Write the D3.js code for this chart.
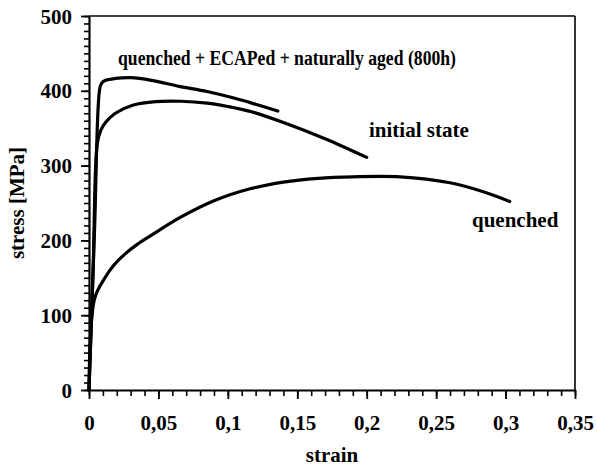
<!DOCTYPE html>
<html>
<head>
<meta charset="utf-8">
<script src="https://cdn.jsdelivr.net/npm/d3@7"></script>
<style>
  body { margin: 0; background: #fff; }
  text { font-family: "Liberation Serif", "Times New Roman", serif; font-weight: bold; fill: #000; }
</style>
</head>
<body>
<svg width="597" height="472"></svg>
<script>
// strain / stress readings for each curve
var ecapStrain    = [0, 0.0040, 0.0075, 0.0090, 0.0120, 0.019, 0.030, 0.045, 0.065, 0.085, 0.105, 0.120, 0.136];
var ecapStress    = [0, 215,    400,    410,    414,    416.5, 417.5, 414,   406,   399,   390,   382,   373];

var initStrain    = [0, 0.0030, 0.0060, 0.0085, 0.0120, 0.019, 0.032, 0.048, 0.066, 0.085, 0.100, 0.117, 0.141, 0.170, 0.200];
var initStress    = [0, 165,    330,    347,    358,    370,   381,   385.5, 386,   383.5, 379,   372,   357,   336,   311];

var quenchStrain  = [0, 0.0040, 0.0115, 0.018, 0.026, 0.035, 0.045, 0.066, 0.090, 0.116, 0.140, 0.165, 0.190, 0.224, 0.260, 0.284, 0.303];
var quenchStress  = [0, 122,    150,    167,   182,   195,   207,   231,   253,   269,   278,   283,   285,   285,   277,   265,   252];

var xMajor = [0, 0.05, 0.1, 0.15, 0.2, 0.25, 0.3, 0.35];
var xLabels = ["0", "0,05", "0,1", "0,15", "0,2", "0,25", "0,3", "0,35"];
var yMajor = [0, 100, 200, 300, 400, 500];

var svg = d3.select("svg");
var margins = { left: 89, right: 22, top: 16, bottom: 82 };
var width = 597 - margins.left - margins.right;
var height = 472 - margins.top - margins.bottom;

var xScale = d3.scaleLinear().domain([0, 0.35]).range([0, width]);
var yScale = d3.scaleLinear().domain([0, 500]).range([height, 0]);

var g = svg.append("g").attr("transform", "translate(" + margins.left + "," + margins.top + ")");

// frame top / right
g.append("line").attr("x1", 0).attr("x2", width).attr("y1", 0).attr("y2", 0)
  .attr("stroke", "#000").attr("stroke-width", 1.6);
g.append("line").attr("x1", width).attr("x2", width).attr("y1", 0).attr("y2", height)
  .attr("stroke", "#000").attr("stroke-width", 1.6);

// minor ticks
var xMinor = d3.range(0, 36).map(function(i) { return i / 100; });
var yMinor = d3.range(0, 51).map(function(i) { return i * 10; });

g.append("g").attr("transform", "translate(0," + height + ")")
  .call(d3.axisBottom(xScale).tickValues(xMinor).tickSize(6).tickFormat("").tickSizeOuter(0))
  .call(function(a) { a.select(".domain").remove(); a.selectAll("line").attr("stroke-width", 1.6); });
g.append("g")
  .call(d3.axisLeft(yScale).tickValues(yMinor).tickSize(5).tickFormat("").tickSizeOuter(0))
  .call(function(a) { a.select(".domain").remove(); a.selectAll("line").attr("stroke-width", 1.6); });

// major ticks + labels
var xAxis = g.append("g").attr("transform", "translate(0," + height + ")")
  .call(d3.axisBottom(xScale).tickValues(xMajor).tickSize(9).tickSizeOuter(0)
    .tickFormat(function(d, i) { return xLabels[i]; }));
xAxis.select(".domain").attr("stroke-width", 2.2);
xAxis.selectAll("line").attr("stroke-width", 1.8);
xAxis.selectAll("text").attr("y", 40).attr("dy", 0).style("font-size", "21px")
  .style("font-family", "Liberation Serif").style("font-weight", "bold");

var yAxis = g.append("g")
  .call(d3.axisLeft(yScale).tickValues(yMajor).tickSize(8).tickSizeOuter(0));
yAxis.select(".domain").attr("stroke-width", 2.2);
yAxis.selectAll("line").attr("stroke-width", 1.8);
yAxis.selectAll("text").attr("x", -17).attr("dy", "0.34em").style("font-size", "21px")
  .style("font-family", "Liberation Serif").style("font-weight", "bold");

// curves
var line = d3.line()
  .x(function(d) { return xScale(d[0]); })
  .y(function(d) { return yScale(d[1]); })
  .curve(d3.curveCatmullRom.alpha(0.5));

var series = [
  d3.zip(quenchStrain, quenchStress),
  d3.zip(initStrain, initStress),
  d3.zip(ecapStrain, ecapStress)
];

g.selectAll("path.curve")
  .data(series)
  .enter()
  .append("path")
  .attr("class", "curve")
  .attr("d", line)
  .attr("fill", "none")
  .attr("stroke", "#000")
  .attr("stroke-width", 3.2)
  .attr("stroke-linecap", "round")
  .attr("stroke-linejoin", "round");

// labels
svg.append("text").attr("x", 118).attr("y", 65).style("font-size", "20px")
  .attr("textLength", 338).attr("lengthAdjust", "spacingAndGlyphs")
  .text("quenched + ECAPed + naturally aged (800h)");
svg.append("text").attr("x", 369).attr("y", 137).style("font-size", "21px").text("initial state");
svg.append("text").attr("x", 472).attr("y", 227).style("font-size", "21px").text("quenched");

svg.append("text").attr("x", margins.left + width / 2).attr("y", 462)
  .attr("text-anchor", "middle").style("font-size", "21px").text("strain");
svg.append("text").attr("transform", "translate(24," + (margins.top + height / 2) + ") rotate(-90)")
  .attr("text-anchor", "middle").style("font-size", "21px").text("stress [MPa]");
</script>
</body>
</html>
